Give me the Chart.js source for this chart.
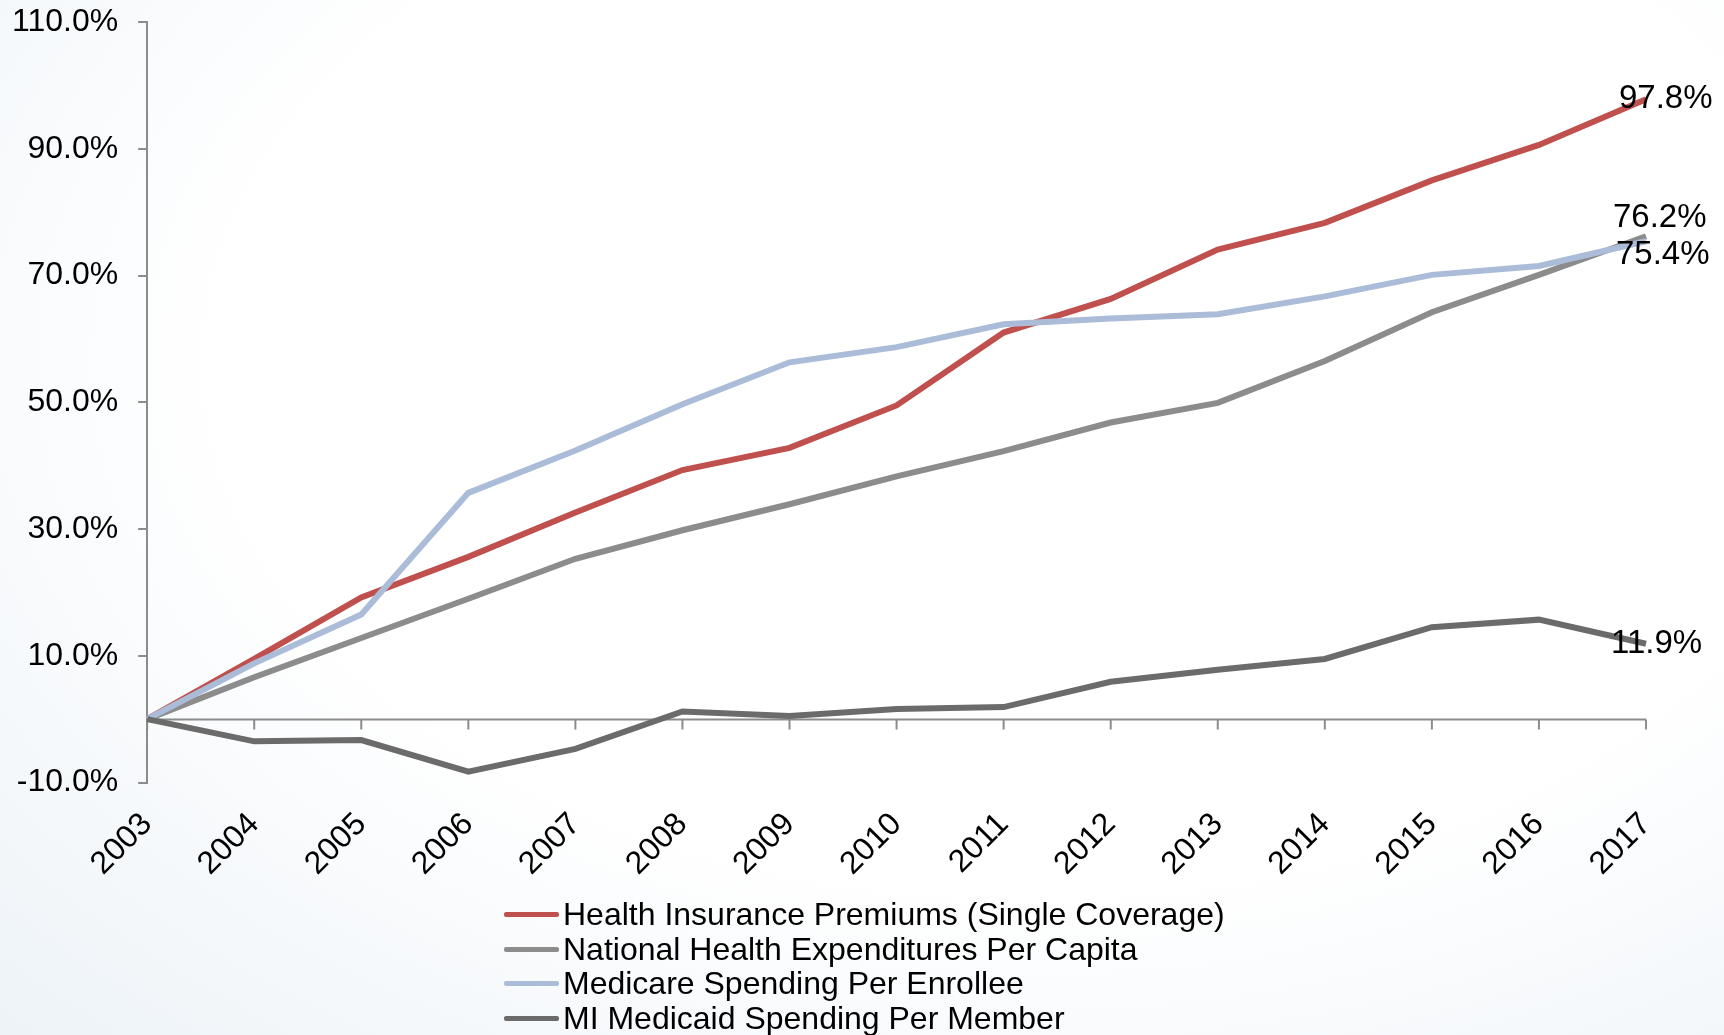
<!DOCTYPE html>
<html>
<head>
<meta charset="utf-8">
<script src="https://cdn.jsdelivr.net/npm/chart.js@4.4.1/dist/chart.umd.min.js"></script>
<style>
  html, body { margin: 0; padding: 0; }
  body {
    width: 1724px; height: 1035px; overflow: hidden; position: relative;
    font-family: "Liberation Sans", Arial, sans-serif;
    background: radial-gradient(ellipse at 60% 35%, #ffffff 55%, #edf3f8 100%);
  }
  #wrap { position: absolute; left: 0; top: 0; width: 1724px; height: 902px; }
  #legend { position: absolute; left: 504px; top: 897px; }
  .item { display: flex; align-items: center; height: 34.7px; font-size: 32px; color: #000; white-space: nowrap; }
  .swatch { width: 55px; height: 5px; margin-right: 4px; border-radius: 2px; }
</style>
</head>
<body>
<div id="wrap"><canvas id="growthChart"></canvas></div>
<div id="legend"></div>
<script>
const years = ["2003", "2004", "2005", "2006", "2007", "2008", "2009", "2010",
  "2011", "2012", "2013", "2014", "2015", "2016", "2017"];

const premiums = [0, 9.5, 19.2, 25.6, 32.6, 39.3, 42.8, 49.5, 61.0, 66.3, 74.1, 78.3, 85.0, 90.6, 97.8];
const nationalHealth = [0, 6.6, 12.8, 19.0, 25.3, 29.8, 33.9, 38.3, 42.3, 46.8, 49.9, 56.5, 64.2, 70.1, 76.2];
const medicare = [0, 8.8, 16.5, 35.7, 42.4, 49.7, 56.3, 58.7, 62.3, 63.2, 63.9, 66.7, 70.1, 71.5, 75.4];
const miMedicaid = [0, -3.5, -3.3, -8.3, -4.7, 1.2, 0.5, 1.6, 1.9, 5.9, 7.8, 9.5, 14.5, 15.7, 11.9];

const yTicks = [-10, 10, 30, 50, 70, 90, 110];

const seriesNames = [
  "Health Insurance Premiums (Single Coverage)",
  "National Health Expenditures Per Capita",
  "Medicare Spending Per Enrollee",
  "MI Medicaid Spending Per Member"
];
const seriesColors = ["#c0504d", "#8c8c8c", "#abbcd9", "#6b6b6b"];

// where each end-of-line value label sits relative to its last point
const endLabelShift = [[-27, 0], [-33, -18], [-30, 14], [-35, 0]];

const axisGrey = "#8c8c8c";
const fontFamily = '"Liberation Sans", Arial, sans-serif';

// zero baseline with its category tick marks, drawn under the lines
const zeroAxis = {
  id: "zeroAxis",
  beforeDatasetsDraw(chart) {
    const { ctx, chartArea, scales } = chart;
    const y0 = Math.round(scales.y.getPixelForValue(0)) + 0.5;
    ctx.save();
    ctx.strokeStyle = axisGrey;
    ctx.lineWidth = 2;
    ctx.beginPath();
    ctx.moveTo(chartArea.left, y0);
    ctx.lineTo(chartArea.right, y0);
    for (let i = 0; i < years.length; i++) {
      const x = scales.x.getPixelForValue(i);
      ctx.moveTo(x, y0);
      ctx.lineTo(x, y0 + 10);
    }
    ctx.stroke();
    ctx.restore();
  }
};

const endLabels = {
  id: "endLabels",
  afterDatasetsDraw(chart) {
    const ctx = chart.ctx;
    ctx.save();
    ctx.font = "33px " + fontFamily;
    ctx.fillStyle = "#000";
    ctx.textAlign = "left";
    ctx.textBaseline = "middle";
    chart.data.datasets.forEach((ds, i) => {
      const meta = chart.getDatasetMeta(i);
      const last = ds.data.length - 1;
      const pt = meta.data[last];
      ctx.fillText(ds.data[last].toFixed(1) + "%", pt.x + endLabelShift[i][0], pt.y + endLabelShift[i][1]);
    });
    ctx.restore();
  }
};

const allSeries = [premiums, nationalHealth, medicare, miMedicaid];

const chart = new Chart(document.getElementById("growthChart"), {
  type: "line",
  data: {
    labels: years,
    datasets: allSeries.map((values, i) => ({
      label: seriesNames[i],
      data: values,
      borderColor: seriesColors[i],
      backgroundColor: seriesColors[i],
      borderWidth: 6,
      pointRadius: 0,
      tension: 0,
      fill: false,
      order: allSeries.length - i
    }))
  },
  options: {
    responsive: true,
    maintainAspectRatio: false,
    animation: false,
    layout: { padding: { left: -8, right: 78, top: 22, bottom: 4 } },
    plugins: {
      legend: { display: false },
      tooltip: { enabled: false }
    },
    scales: {
      x: {
        offset: false,
        grid: { display: false },
        border: { display: false },
        ticks: {
          color: "#000",
          font: { size: 32, family: fontFamily },
          maxRotation: 45,
          minRotation: 45,
          padding: 15,
          autoSkip: false
        }
      },
      y: {
        min: -10,
        max: 110,
        afterBuildTicks: axis => { axis.ticks = yTicks.map(v => ({ value: v })); },
        grid: { drawOnChartArea: false, tickLength: 9, color: axisGrey, lineWidth: 2 },
        border: { color: axisGrey, width: 2 },
        ticks: {
          color: "#000",
          font: { size: 32, family: fontFamily, lineHeight: 0.1 },
          padding: 20,
          callback: v => v.toFixed(1) + "%"
        }
      }
    }
  },
  plugins: [zeroAxis, endLabels]
});

// legend as a single column under the chart
const legend = document.getElementById("legend");
seriesNames.forEach((name, i) => {
  const row = document.createElement("div");
  row.className = "item";
  const sw = document.createElement("span");
  sw.className = "swatch";
  sw.style.background = seriesColors[i];
  const txt = document.createElement("span");
  txt.textContent = name;
  row.appendChild(sw);
  row.appendChild(txt);
  legend.appendChild(row);
});
</script>
</body>
</html>
